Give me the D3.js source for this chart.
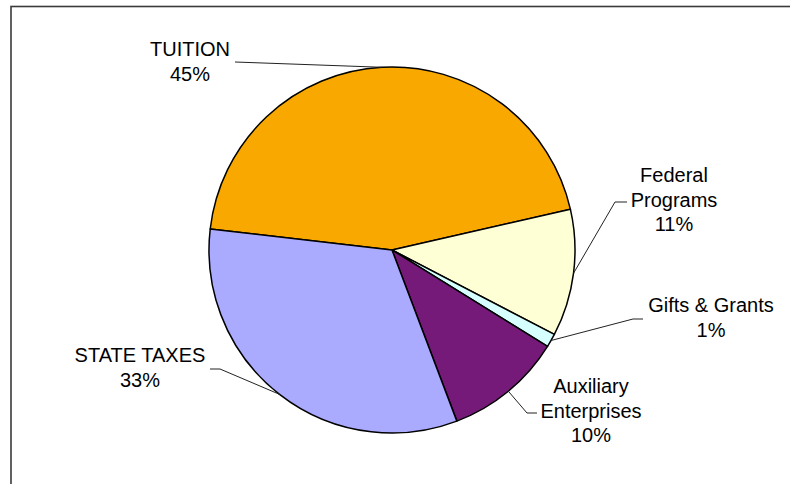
<!DOCTYPE html>
<html>
<head>
<meta charset="utf-8">
<script src="https://cdn.jsdelivr.net/npm/d3@7"></script>
<style>
  html, body { margin: 0; padding: 0; background: #fff; }
  svg { display: block; }
  text { font-family: "Liberation Sans", Arial, sans-serif; fill: #000; }
</style>
</head>
<body>
<svg id="chart" width="790" height="484"></svg>
<script>
// ---- data ----
const categories = ["TUITION", "Federal Programs", "Gifts & Grants", "Auxiliary Enterprises", "STATE TAXES"];
const labelLines = [["TUITION"], ["Federal", "Programs"], ["Gifts & Grants"], ["Auxiliary", "Enterprises"], ["STATE TAXES"]];
const values = [44.6, 11.2, 1.2, 10.4, 32.6];
const colors = ["#F9A800", "#FFFFD6", "#D6FFFF", "#761A7A", "#AAAAFF"];

// ---- layout ----
const W = 790, H = 484;
const cx = 392, cy = 250, R = 183;
const startDeg = -83.4;
// label layout: text centre x, first baseline y, leader elbow [x,y] and label-side end [x,y]
const labelLayout = [
  { x: 190, y: 56, elbow: [235, 62], end: [235, 62] },
  { x: 674, y: 182, elbow: [627, 202], end: [615, 202] },
  { x: 711, y: 312, elbow: [643, 319], end: [633, 319] },
  { x: 591, y: 393, elbow: [537, 413], end: [527, 413] },
  { x: 140, y: 362, elbow: [210, 369], end: [220, 369] }
];

const svg = d3.select("#chart");

// frame (clipped at right and bottom like the reference)
svg.append("rect")
  .attr("x", 11).attr("y", 6.5)
  .attr("width", W + 20).attr("height", H + 20)
  .attr("fill", "none").attr("stroke", "#3a3a3a").attr("stroke-width", 1.6);

const pie = d3.pie().sort(null).value(d => d)
  .startAngle(startDeg * Math.PI / 180)
  .endAngle(startDeg * Math.PI / 180 + 2 * Math.PI);
const arcs = pie(values);
const total = d3.sum(values);
const fmt = d3.format(".0%");

const arc = d3.arc().innerRadius(0).outerRadius(R);
const edgeArc = d3.arc().innerRadius(R).outerRadius(R);

const g = svg.append("g").attr("transform", `translate(${cx},${cy})`);

g.selectAll("path.slice")
  .data(arcs)
  .join("path")
  .attr("class", "slice")
  .attr("d", arc)
  .attr("fill", (d, i) => colors[i])
  .attr("stroke", "#000")
  .attr("stroke-width", 1.5)
  .attr("stroke-linejoin", "round");

// leader lines
arcs.forEach((d, i) => {
  const L = labelLayout[i];
  const c = edgeArc.centroid(d);
  const p = [cx + c[0], cy + c[1]];
  svg.append("polyline")
    .attr("points", [p, L.end, L.elbow].map(q => q.join(",")).join(" "))
    .attr("fill", "none")
    .attr("stroke", "#222")
    .attr("stroke-width", 1);
});

// labels
arcs.forEach((d, i) => {
  const L = labelLayout[i];
  const lines = labelLines[i].concat([fmt(values[i] / total)]);
  const t = svg.append("text")
    .attr("x", L.x).attr("y", L.y)
    .attr("text-anchor", "middle")
    .style("font-size", "20px");
  lines.forEach((s, j) => {
    t.append("tspan").attr("x", L.x).attr("dy", j === 0 ? 0 : 24.5).text(s);
  });
});
</script>
</body>
</html>
